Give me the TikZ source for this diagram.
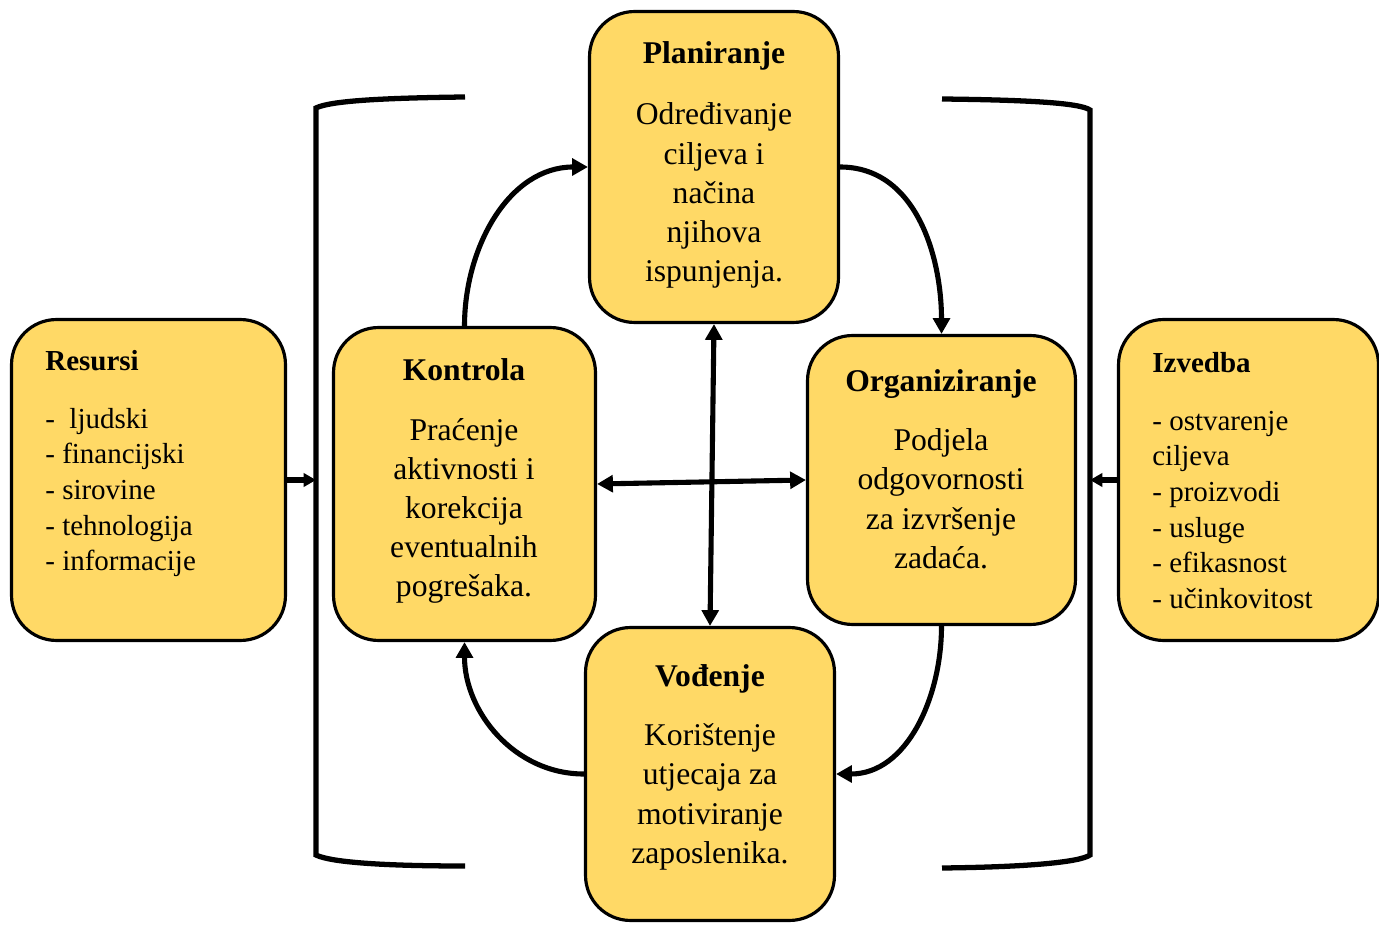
\documentclass[tikz,border=0pt]{standalone}
\usepackage{fontspec}
\setmainfont{Liberation Serif}
\usepackage{tikz}
\usetikzlibrary{positioning}
\usetikzlibrary{calc}
\usetikzlibrary{arrows.meta}
\definecolor{zuta}{HTML}{FFD966}

\begin{document}
\begin{tikzpicture}[x=0.02cm,y=-0.02cm]
% definicija stilova
\tikzstyle kutija=[draw=black,fill=zuta,line width=1.8pt,rounded corners=0.9cm]
\tikzstyle strelica=[line width=2.9pt,-{Triangle[length=9pt,width=9.5pt]}]
\tikzstyle malastrelica=[line width=2.9pt,-{Triangle[length=7pt,width=7.5pt]}]
\tikzstyle dvostrelica=[line width=2.9pt,{Triangle[length=9pt,width=9.5pt]}-{Triangle[length=9pt,width=9.5pt]}]
\tikzstyle zagrada=[line width=3pt]
\tikzstyle tekstsred=[anchor=north,inner sep=0pt,align=center,font=\fontsize{18}{22.3}\selectfont]
\tikzstyle tekststrana=[anchor=north west,inner sep=0pt,align=left,font=\fontsize{16.5}{20.3}\selectfont]
\useasboundingbox (0,0) rectangle (1379,925);
% kutije
\node[kutija,minimum width=5.48cm,minimum height=6.42cm] (resursi) at (148.5,480) {};
\node[kutija,minimum width=4.98cm,minimum height=6.22cm] (planiranje) at (714,167) {};
\node[kutija,minimum width=5.24cm,minimum height=6.26cm] (kontrola) at (464.5,484) {};
\node[kutija,minimum width=5.36cm,minimum height=5.78cm] (organiziranje) at (941.5,480) {};
\node[kutija,minimum width=4.98cm,minimum height=5.86cm] (vodjenje) at (710,774) {};
\node[kutija,minimum width=5.20cm,minimum height=6.42cm] (izvedba) at (1248.5,480) {};
% tekstovi
\node[tekststrana] (tresursi) at (45,350) {\textbf{Resursi}\\[12.6pt]-\ \ ljudski\\- financijski\\- sirovine\\- tehnologija\\- informacije};
\node[tekstsred] (tplaniranje) at (714,41) {\textbf{Planiranje}\\[12.8pt]Određivanje\\ciljeva i\\načina\\njihova\\ispunjenja.};
\node[tekstsred] (tkontrola) at (464,358) {\textbf{Kontrola}\\[11.8pt]Praćenje\\aktivnosti i\\korekcija\\eventualnih\\pogrešaka.};
\node[tekstsred] (torganiziranje) at (941,369) {\textbf{Organiziranje}\\[11.5pt]Podjela\\odgovornosti\\za izvršenje\\zadaća.};
\node[tekstsred] (tvodjenje) at (710,664) {\textbf{Vođenje}\\[11.5pt]Korištenje\\utjecaja za\\motiviranje\\zaposlenika.};
\node[tekststrana] (tizvedba) at (1152,352) {\textbf{Izvedba}\\[12.6pt]- ostvarenje\\ciljeva\\- proizvodi\\- usluge\\- efikasnost\\- učinkovitost};
% ciklus
\draw[strelica] (kontrola.north) to[out=90,in=180] (planiranje.west);
\draw[strelica] (planiranje.east) to[out=0,in=90] (organiziranje.north);
\draw[strelica] (organiziranje.south) to[out=-90,in=0] (vodjenje.east);
\draw[strelica] (vodjenje.west) to[out=180,in=-90] (kontrola.south);
% dvostruke strelice
\draw[dvostrelica] (planiranje.south) -- (vodjenje.north);
\draw[dvostrelica] (kontrola.east) -- (organiziranje.west);
% zagrade
\coordinate (lijevo) at (316,480);
\coordinate (desno) at (1090,480);
\draw[zagrada] (465,97) .. controls (380,98) and (330,101) .. (316,108) -- (316,855) .. controls (330,862) and (380,866) .. (465,866);
\draw[zagrada] (942,99) .. controls (1030,100) and (1080,103) .. (1090,110) -- (1090,855) .. controls (1080,862) and (1030,867) .. (942,868);
\draw[malastrelica] (resursi.east) -- (lijevo);
\draw[malastrelica] (izvedba.west) -- (desno);
\end{tikzpicture}
\end{document}
